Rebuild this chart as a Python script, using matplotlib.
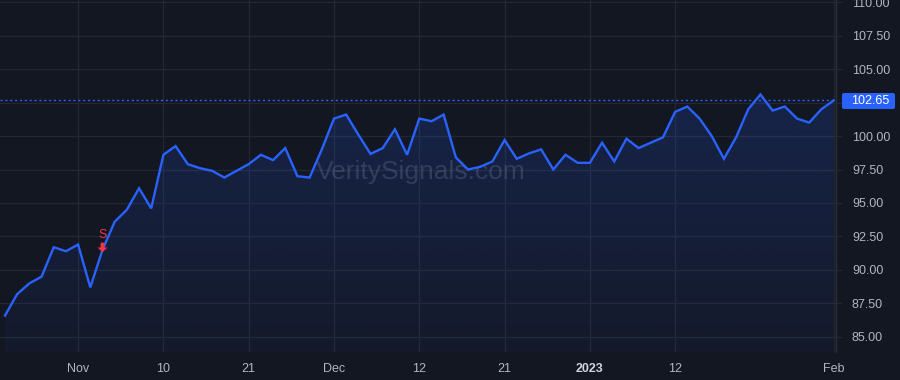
import numpy as np
import matplotlib
matplotlib.use("Agg")
import matplotlib.pyplot as plt
from matplotlib.patches import FancyBboxPatch
from matplotlib.path import Path
from matplotlib.transforms import ScaledTranslation

plt.rcParams['font.family'] = ['Liberation Sans', 'DejaVu Sans']

# Daily closes, 2022-10-24 .. 2023-02-01 (trading days)
values = [86.6, 88.2, 89.0, 89.5, 91.7, 91.4, 91.9, 88.7, 91.5, 93.6,
          94.5, 96.1, 94.6, 98.6, 99.25, 97.9, 97.6, 97.4, 96.9, 97.4,
          97.9, 98.6, 98.2, 99.1, 97.0, 96.9, 99.0, 101.3, 101.6, 100.1,
          98.66, 99.1, 100.5, 98.6, 101.3, 101.1, 101.6, 98.4, 97.5, 97.7,
          98.1, 99.7, 98.3, 98.7, 99.0, 97.5, 98.6, 98.0, 98.0, 99.5,
          98.1, 99.8, 99.1, 99.5, 99.9, 101.8, 102.2, 101.3, 100.0, 98.3,
          99.9, 102.0, 103.1, 101.9, 102.2, 101.3, 101.0, 102.0, 102.65]
xtick_idx = [6, 13, 20, 27, 34, 41, 48, 55, 68]
xtick_labels = ["Nov", "10", "21", "Dec", "12", "21", "2023", "12", "Feb"]
ytick_vals = [85, 87.5, 90, 92.5, 95, 97.5, 100, 102.5, 105, 107.5, 110]
last_price = 102.65
signal_idx = 8
signal_label = "S"

BG = "#131722"
GRID = "#232733"
LINE = "#2962ff"
TXT = "#b2b5be"
RED = "#f23645"

x = np.arange(len(values))
y = np.array(values)

fig = plt.figure(figsize=(9, 3.8), dpi=100, facecolor=BG)
ax = fig.add_axes([0, 28/380, 836/900, 352/380])
ax.set_facecolor(BG)
ymin, ymax = 83.88, 110.15
xmin, xmax = -0.41, 68.2
ax.set_xlim(xmin, xmax)
ax.set_ylim(ymin, ymax)

# grid
for v in ytick_vals:
    ax.axhline(v, color=GRID, lw=0.9, zorder=0)
for i in xtick_idx:
    ax.axvline(i, color=GRID, lw=0.9, zorder=0)

# gradient fill
poly = ax.fill_between(x, y, ymin, color='none', lw=0)
top_a, bot_a = 0.18, 0.04
grad = np.linspace(top_a, bot_a, 256)
img = np.zeros((256, 1, 4))
img[..., 0] = 41/255; img[..., 1] = 98/255; img[..., 2] = 1.0
img[:, 0, 3] = grad
im = ax.imshow(img, extent=[x[0], x[-1], ymin, y.max()], aspect='auto',
               origin='upper', zorder=1, interpolation='bilinear')
im.set_clip_path(poly.get_paths()[0], transform=ax.transData)

ax.plot(x, y, color=LINE, lw=1.7, zorder=3, solid_joinstyle='miter')

# last price dotted line
ax.axhline(last_price, color=LINE, lw=1, ls=(0, (1.5, 2)), zorder=2)

# watermark
ax.text(0.503, 0.51, "VeritySignals.com", transform=ax.transAxes, ha='center',
        va='center', fontsize=19, color='#5d6680', alpha=0.42, zorder=2)

# signal marker (S + down arrow)
arrow = Path([(-0.2, 0.5), (0.2, 0.5), (0.2, 0.0), (0.5, 0.0), (0.0, -0.5),
              (-0.5, 0.0), (-0.2, 0.0), (-0.2, 0.5)],
             [Path.MOVETO] + [Path.LINETO] * 6 + [Path.CLOSEPOLY])
ax.plot([signal_idx], [y[signal_idx]], marker=arrow, ms=7, color=RED, mew=0,
        ls='none', zorder=4,
        transform=ax.transData + ScaledTranslation(0, 0.03, fig.dpi_scale_trans))
ax.annotate(signal_label, (signal_idx, y[signal_idx]), xytext=(0, 11),
            textcoords='offset points', ha='center', va='center',
            color=RED, fontsize=9, zorder=4)

for s in ax.spines.values():
    s.set_visible(False)
ax.spines['right'].set_visible(True)
ax.spines['right'].set_color('#2a2e39')
ax.spines['right'].set_linewidth(1)

ax.yaxis.tick_right()
ax.set_yticks(ytick_vals)
# the 102.50 label sits under the last-price badge, as in the reference
ax.set_yticklabels(["" if abs(v - last_price) < 1 else f"{v:.2f}" for v in ytick_vals])
ax.tick_params(axis='y', colors=TXT, labelsize=9, length=4.5, width=0.9,
               color=GRID, pad=7, direction='out')
ax.set_xticks(xtick_idx)
ax.set_xticklabels(xtick_labels)
ax.tick_params(axis='x', colors=TXT, labelsize=9, length=0, pad=8)
for lbl in ax.get_xticklabels():
    if lbl.get_text() == "2023":
        lbl.set_fontweight('bold')
        lbl.set_color('#d1d4dc')

# price label box (figure pixels)
box = FancyBboxPatch((842, 380 - 109), 53, 16,
                     boxstyle='round,pad=0,rounding_size=2',
                     transform=None, fc=LINE, ec='none', zorder=5)
fig.add_artist(box)
fig.text(870/900, 1 - 101/380, f"{last_price:.2f}", ha='center', va='center',
         fontsize=9, color='white', zorder=6)

fig.savefig("out.png", dpi=100, facecolor=BG)
